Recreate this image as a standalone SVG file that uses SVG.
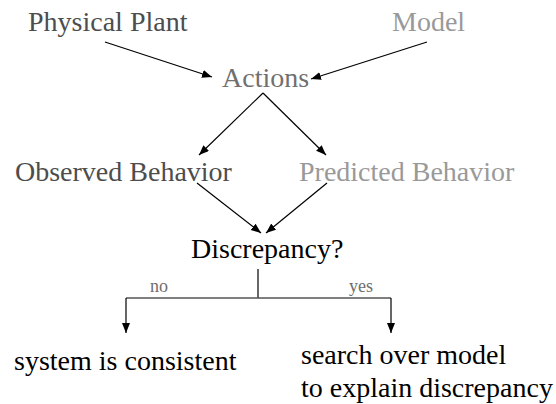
<svg xmlns="http://www.w3.org/2000/svg" width="556" height="404" viewBox="0 0 556 404" font-family="'Liberation Serif', Tinos, 'Times New Roman', serif">
  <style>
    text { font-family: 'Liberation Serif', Tinos, 'Times New Roman', serif; font-size: 28px; }
    .dark { fill: #4d4d4d; }
    .mid { fill: #707070; }
    .light { fill: #999999; }
    .black { fill: #000000; }
    .small { font-size: 18px; fill: #6e6e6e; }
    .conn { stroke: #000; stroke-width: 1.2; fill: none; }
    .bar { stroke: #555; stroke-width: 1.6; fill: none; }
  </style>
  <defs>
    <marker id="arrow" markerUnits="userSpaceOnUse" markerWidth="11" markerHeight="9" refX="10" refY="4" orient="auto">
      <path d="M0,0 L10,4 L0,8 z" fill="#000"/>
    </marker>
  </defs>
  <rect width="556" height="404" fill="#ffffff"/>

  <g id="connectors">
    <line class="conn" x1="105" y1="42" x2="212" y2="77" marker-end="url(#arrow)"/>
    <line class="conn" x1="427" y1="42" x2="311" y2="79" marker-end="url(#arrow)"/>
    <line class="conn" x1="263" y1="93" x2="199" y2="155" marker-end="url(#arrow)"/>
    <line class="conn" x1="263" y1="93" x2="326" y2="155" marker-end="url(#arrow)"/>
    <line class="conn" x1="197" y1="183" x2="261" y2="233" marker-end="url(#arrow)"/>
    <line class="conn" x1="327" y1="183" x2="266" y2="233" marker-end="url(#arrow)"/>
    <line class="conn" x1="258" y1="269" x2="258" y2="298"/>
    <line class="bar" x1="126" y1="298" x2="391" y2="298"/>
    <line class="conn" x1="126" y1="298" x2="126" y2="333" marker-end="url(#arrow)"/>
    <line class="conn" x1="391" y1="298" x2="391" y2="333" marker-end="url(#arrow)"/>
    <text class="small" x="150" y="292">no</text>
    <text class="small" x="349" y="292">yes</text>
  </g>

  <g id="physical-plant"><text class="dark" x="28" y="31">Physical Plant</text></g>
  <g id="model"><text class="light" x="392" y="31">Model</text></g>
  <g id="actions"><text class="mid" x="222" y="87">Actions</text></g>
  <g id="observed-behavior"><text class="dark" x="15" y="181">Observed Behavior</text></g>
  <g id="predicted-behavior"><text class="light" x="299" y="181">Predicted Behavior</text></g>
  <g id="discrepancy"><text class="black" x="191" y="258">Discrepancy?</text></g>
  <g id="consistent"><text class="black" x="14" y="370">system is consistent</text></g>
  <g id="search">
    <text class="black" x="301" y="364">search over model</text>
    <text class="black" x="301" y="397">to explain discrepancy</text>
  </g>
</svg>
